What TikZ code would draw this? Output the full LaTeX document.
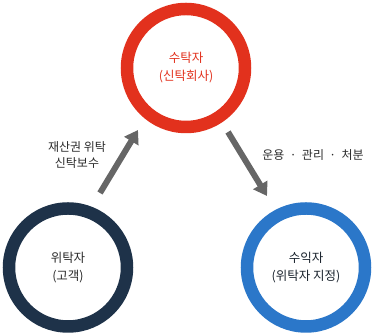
\documentclass[tikz,border=0pt]{standalone}
\usepackage{fontspec}
\setmainfont{Noto Sans CJK KR}
\usepackage{tikz}
\usetikzlibrary{arrows.meta,positioning}
\usepackage{xcolor}
\definecolor{trustred}{HTML}{E2311D}
\definecolor{clientnavy}{HTML}{1E3249}
\definecolor{benefblue}{HTML}{2B77C9}
\definecolor{flowgray}{HTML}{666666}
\definecolor{labeltext}{HTML}{2A2A2A}

\begin{document}
\begin{tikzpicture}[
  x=1pt, y=1pt,
  font=\fontsize{12.5}{18}\selectfont,
  ring/.style={circle, line width=12.5pt, minimum size=118pt, inner sep=0pt,
               align=center, text=labeltext},
  flow/.style={-{Triangle[length=13pt,width=16pt]}, draw=flowgray, line width=6pt},
  note/.style={align=center, text=labeltext, font=\fontsize{12}{16}\selectfont},
]
\useasboundingbox (0,0) rectangle (373,336);

% Parties
\node[ring, draw=trustred, text=trustred] (trustee) at (186,268)
  {\raisebox{-3pt}{수탁자}\\\raisebox{-3pt}{(신탁회사)}};
\node[ring, draw=clientnavy] (truster) at (68,68.5)
  {\raisebox{-3pt}{위탁자}\\\raisebox{-3pt}{(고객)}};
\node[ring, draw=benefblue, text=labeltext!80!benefblue!60!black] (benef) at (306,68.5)
  {\raisebox{-3pt}{수익자}\\\raisebox{-3pt}{(위탁자 지정)}};

% Arrow ends
\coordinate (inS) at (100,143);
\coordinate (inE) at (138,206);
\coordinate (outS) at (228,204);
\coordinate (outE) at (267,140);

% Flows
\draw[flow] (inS) -- (inE);
\draw[flow] (outS) -- (outE);

% Labels
\node[note] (inlbl) at (77,181) {재산권 위탁\\신탁보수};
\node[note] (outlbl) at (313,181) {운용 ~·~ 관리 ~·~ 처분};

\end{tikzpicture}
\end{document}
